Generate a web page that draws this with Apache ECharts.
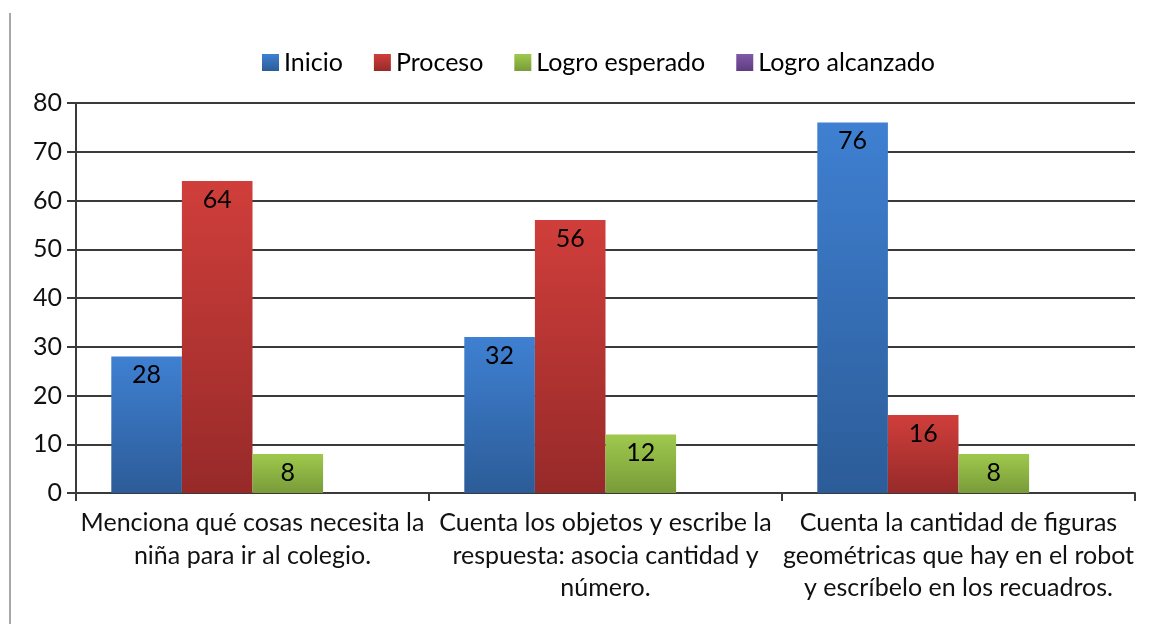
<!DOCTYPE html>
<html>
<head>
<meta charset="utf-8">
<script src="https://cdn.jsdelivr.net/npm/echarts@6/dist/echarts.min.js"></script>
<style>
html,body{margin:0;padding:0;background:#fff;}
#chart{width:1150px;height:624px;}
</style>
</head>
<body>
<div id="chart"></div>
<script>
const categories = [
  'Menciona qué cosas necesita la\nniña para ir al colegio.',
  'Cuenta los objetos y escribe la\nrespuesta: asocia cantidad y\nnúmero.',
  'Cuenta la cantidad de figuras\ngeométricas que hay en el robot\ny escríbelo en los recuadros.'
];
const seriesNames = ['Inicio', 'Proceso', 'Logro esperado', 'Logro alcanzado'];
const inicio = [28, 32, 76];
const proceso = [64, 56, 16];
const logroEsperado = [8, 12, 8];
const logroAlcanzado = [0, 0, 0];
const yTicks = [0, 10, 20, 30, 40, 50, 60, 70, 80];

const FONT = 'Lato';
const FS = 25;
const gradients = [
  ['#3f80d2', '#2c5c98'],
  ['#d03e3b', '#962a29'],
  ['#9ec94d', '#799b39'],
  ['#8058a8', '#5f3d82']
];
const allData = [inicio, proceso, logroEsperado, logroAlcanzado];

const chart = echarts.init(document.getElementById('chart'), null, {renderer: 'canvas'});
chart.setOption({
  animation: false,
  backgroundColor: '#fff',
  textStyle: {fontFamily: FONT},
  graphic: [{
    type: 'line',
    shape: {x1: 10, y1: 13, x2: 10, y2: 624},
    style: {stroke: '#a8a8a8', lineWidth: 2}
  }],
  legend: {
    left: 257,
    top: 45,
    icon: 'rect',
    itemWidth: 17,
    itemHeight: 17,
    itemGap: 31,
    data: seriesNames,
    textStyle: {fontFamily: FONT, fontSize: FS, color: '#000'}
  },
  grid: {left: 76, right: 15, top: 103, bottom: 131, containLabel: false},
  xAxis: {
    type: 'category',
    data: categories,
    axisLine: {lineStyle: {color: '#3a3a3a', width: 2}},
    axisTick: {show: true, length: 8, interval: 0, lineStyle: {color: '#3a3a3a', width: 2}},
    axisLabel: {
      interval: 0,
      fontFamily: FONT,
      fontSize: FS,
      lineHeight: 32.5,
      color: '#111',
      margin: 14,
      align: 'center'
    }
  },
  yAxis: {
    type: 'value',
    min: 0,
    max: 80,
    interval: 10,
    axisLine: {show: true, lineStyle: {color: '#3a3a3a', width: 2}},
    axisTick: {show: true, length: 9, lineStyle: {color: '#3a3a3a', width: 2}},
    splitLine: {lineStyle: {color: '#3a3a3a', width: 2}},
    axisLabel: {
      fontFamily: FONT,
      fontSize: FS,
      color: '#111',
      margin: 14,
      formatter: v => yTicks.includes(v) ? String(v) : ''
    }
  },
  series: seriesNames.map((name, i) => ({
    name: name,
    type: 'bar',
    data: allData[i],
    barGap: '0%',
    barCategoryGap: '20%',
    itemStyle: {
      color: new echarts.graphic.LinearGradient(0, 0, 0, 1, [
        {offset: 0, color: gradients[i][0]},
        {offset: 1, color: gradients[i][1]}
      ])
    },
    label: {
      show: true,
      position: 'insideTop',
      distance: 6,
      fontFamily: FONT,
      fontSize: FS,
      color: '#000',
      formatter: p => p.value ? String(p.value) : ''
    }
  }))
});
</script>
</body>
</html>
